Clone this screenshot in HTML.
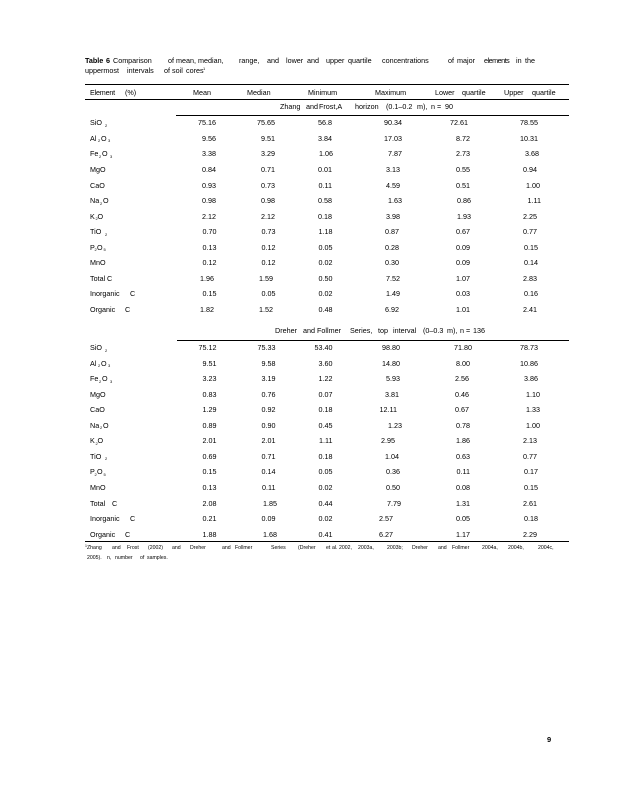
<!DOCTYPE html>
<html><head><meta charset="utf-8">
<style>
html,body{margin:0;padding:0;background:#fff;}
#pg{position:relative;width:618px;height:800px;overflow:hidden;background:#fff;color:#000;font-family:"Liberation Sans",Arial,sans-serif;font-size:7.2px;}
.t{position:absolute;white-space:nowrap;line-height:9px;height:9px;}
.r{position:absolute;left:0;width:618px;height:9px;line-height:9px;white-space:nowrap;}
.r span{position:absolute;top:0;}
.a{right:401.5px}.b{right:342.5px}.c{right:285.5px}.d{right:218px}.e{right:148px}.f{right:80px}
.r span.s{font-size:4px;top:2.5px;}
.hl{position:absolute;height:1px;background:#000;}
.fn{position:absolute;white-space:nowrap;font-size:5.2px;line-height:7px;}
</style></head><body><div id="pg">

<!-- Title -->
<div class="t" style="top:55.6px;left:85px;font-weight:bold">Table</div>
<div class="t" style="top:55.6px;left:106px;font-weight:bold">6</div>
<div class="t" style="top:55.6px;left:113px">Comparison</div>
<div class="t" style="top:55.6px;left:168px">of</div>
<div class="t" style="top:55.6px;left:176px">mean,</div>
<div class="t" style="top:55.6px;left:198px">median,</div>
<div class="t" style="top:55.6px;left:239px">range,</div>
<div class="t" style="top:55.6px;left:267px">and</div>
<div class="t" style="top:55.6px;left:286px">lower</div>
<div class="t" style="top:55.6px;left:307px">and</div>
<div class="t" style="top:55.6px;left:326px">upper</div>
<div class="t" style="top:55.6px;left:348px">quartile</div>
<div class="t" style="top:55.6px;left:382px">concentrations</div>
<div class="t" style="top:55.6px;left:448px">of</div>
<div class="t" style="top:55.6px;left:457px">major</div>
<div class="t" style="top:55.6px;left:484px;letter-spacing:-0.5px">elements</div>
<div class="t" style="top:55.6px;left:516px">in</div>
<div class="t" style="top:55.6px;left:525px">the</div>

<div class="t" style="top:66.3px;left:85px">uppermost</div>
<div class="t" style="top:66.3px;left:127px">intervals</div>
<div class="t" style="top:66.3px;left:164px">of</div>
<div class="t" style="top:66.3px;left:172px">soil</div>
<div class="t" style="top:66.3px;left:186px">cores</div>
<div class="t" style="top:64.3px;left:203px;font-size:4px">1</div>

<!-- rules -->
<div class="hl" style="top:83.5px;left:85px;width:484px"></div>
<div class="hl" style="top:98.5px;left:85px;width:484px"></div>
<div class="hl" style="top:115px;left:176px;width:393px"></div>
<div class="hl" style="top:339.5px;left:177px;width:392px"></div>
<div class="hl" style="top:541px;left:85px;width:484px"></div>

<!-- header -->
<div class="t" style="top:87.6px;left:90px;letter-spacing:-0.2px">Element</div>
<div class="t" style="top:87.6px;left:125px">(%)</div>
<div class="t" style="top:87.6px;left:193px">Mean</div>
<div class="t" style="top:87.6px;left:247px">Median</div>
<div class="t" style="top:87.6px;left:308px">Minimum</div>
<div class="t" style="top:87.6px;left:375px">Maximum</div>
<div class="t" style="top:87.6px;left:435px">Lower</div>
<div class="t" style="top:87.6px;left:462px">quartile</div>
<div class="t" style="top:87.6px;left:504px">Upper</div>
<div class="t" style="top:87.6px;left:532px">quartile</div>

<!-- section 1 header -->
<div class="t" style="top:102.3px;left:280px">Zhang</div>
<div class="t" style="top:102.3px;left:306px">and</div>
<div class="t" style="top:102.3px;left:319px">Frost,A</div>
<div class="t" style="top:102.3px;left:355px">horizon</div>
<div class="t" style="top:102.3px;left:386px">(0.1–0.2</div>
<div class="t" style="top:102.3px;left:417px">m),</div>
<div class="t" style="top:102.3px;left:431px">n</div>
<div class="t" style="top:102.3px;left:437px">=</div>
<div class="t" style="top:102.3px;left:445px">90</div>

<!-- section 1 rows -->
<div class="r" style="top:118.3px"><span style="left:90px">SiO</span><span class="s" style="left:105px">2</span>
<span class="a" style="right:402px">75.16</span><span class="b" style="right:343px">75.65</span><span class="c" style="right:286px">56.8</span><span class="d" style="right:216px">90.34</span><span class="e" style="right:150px">72.61</span><span class="f">78.55</span></div>

<div class="r" style="top:133.85px"><span style="left:90px">Al</span><span class="s" style="left:98px">2</span><span style="left:101px">O</span><span class="s" style="left:108px">3</span>
<span class="a" style="right:402px">9.56</span><span class="b" style="right:343px">9.51</span><span class="c" style="right:286px">3.84</span><span class="d" style="right:216px">17.03</span><span class="e">8.72</span><span class="f">10.31</span></div>

<div class="r" style="top:149.4px"><span style="left:90px">Fe</span><span class="s" style="left:99px">2</span><span style="left:102px">O</span><span class="s" style="left:110px">3</span>
<span class="a" style="right:402px">3.38</span><span class="b" style="right:343px">3.29</span><span class="c" style="right:285px">1.06</span><span class="d" style="right:216px">7.87</span><span class="e">2.73</span><span class="f" style="right:79px">3.68</span></div>

<div class="r" style="top:164.95px"><span style="left:90px">MgO</span>
<span class="a" style="right:402px">0.84</span><span class="b" style="right:343px">0.71</span><span class="c" style="right:286px">0.01</span><span class="d">3.13</span><span class="e">0.55</span><span class="f" style="right:81px">0.94</span></div>

<div class="r" style="top:180.5px"><span style="left:90px">CaO</span>
<span class="a" style="right:402px">0.93</span><span class="b" style="right:343px">0.73</span><span class="c" style="right:286px">0.11</span><span class="d">4.59</span><span class="e">0.51</span><span class="f" style="right:78px">1.00</span></div>

<div class="r" style="top:196.05px"><span style="left:90px">Na</span><span class="s" style="left:100px">2</span><span style="left:103px">O</span>
<span class="a" style="right:402px">0.98</span><span class="b" style="right:343px">0.98</span><span class="c" style="right:286px">0.58</span><span class="d" style="right:216px">1.63</span><span class="e" style="right:147px">0.86</span><span class="f" style="right:77px">1.11</span></div>

<div class="r" style="top:211.6px"><span style="left:90px">K</span><span class="s" style="left:95.5px">2</span><span style="left:97.5px">O</span>
<span class="a" style="right:402px">2.12</span><span class="b" style="right:343px">2.12</span><span class="c" style="right:286px">0.18</span><span class="d">3.98</span><span class="e" style="right:147px">1.93</span><span class="f" style="right:81px">2.25</span></div>

<div class="r" style="top:227.15px"><span style="left:90px">TiO</span><span class="s" style="left:105px">2</span>
<span class="a">0.70</span><span class="b">0.73</span><span class="c">1.18</span><span class="d" style="right:219px">0.87</span><span class="e">0.67</span><span class="f" style="right:81px">0.77</span></div>

<div class="r" style="top:242.7px"><span style="left:90px">P</span><span class="s" style="left:94.5px">2</span><span style="left:97px">O</span><span class="s" style="left:103.5px">5</span>
<span class="a">0.13</span><span class="b">0.12</span><span class="c">0.05</span><span class="d" style="right:219px">0.28</span><span class="e">0.09</span><span class="f">0.15</span></div>

<div class="r" style="top:258.25px"><span style="left:90px">MnO</span>
<span class="a">0.12</span><span class="b">0.12</span><span class="c">0.02</span><span class="d" style="right:219px">0.30</span><span class="e">0.09</span><span class="f">0.14</span></div>

<div class="r" style="top:273.8px"><span style="left:90px">Total</span><span style="left:107px">C</span>
<span class="a" style="right:404px">1.96</span><span class="b" style="right:345px">1.59</span><span class="c">0.50</span><span class="d">7.52</span><span class="e">1.07</span><span class="f" style="right:81px">2.83</span></div>

<div class="r" style="top:289.35px"><span style="left:90px">Inorganic</span><span style="left:130px">C</span>
<span class="a">0.15</span><span class="b">0.05</span><span class="c">0.02</span><span class="d">1.49</span><span class="e">0.03</span><span class="f">0.16</span></div>

<div class="r" style="top:304.9px"><span style="left:90px">Organic</span><span style="left:125px">C</span>
<span class="a" style="right:404px">1.82</span><span class="b" style="right:345px">1.52</span><span class="c">0.48</span><span class="d" style="right:219px">6.92</span><span class="e">1.01</span><span class="f" style="right:81px">2.41</span></div>

<!-- section 2 header -->
<div class="t" style="top:326.1px;left:275px">Dreher</div>
<div class="t" style="top:326.1px;left:303px">and</div>
<div class="t" style="top:326.1px;left:317px">Follmer</div>
<div class="t" style="top:326.1px;left:350px">Series,</div>
<div class="t" style="top:326.1px;left:378px">top</div>
<div class="t" style="top:326.1px;left:393px">interval</div>
<div class="t" style="top:326.1px;left:423px">(0–0.3</div>
<div class="t" style="top:326.1px;left:447px">m),</div>
<div class="t" style="top:326.1px;left:460px">n</div>
<div class="t" style="top:326.1px;left:466px">=</div>
<div class="t" style="top:326.1px;left:473px">136</div>

<!-- section 2 rows -->
<div class="r" style="top:343.1px"><span style="left:90px">SiO</span><span class="s" style="left:105px">2</span>
<span class="a">75.12</span><span class="b">75.33</span><span class="c">53.40</span><span class="d">98.80</span><span class="e" style="right:146px">71.80</span><span class="f">78.73</span></div>

<div class="r" style="top:358.6px"><span style="left:90px">Al</span><span class="s" style="left:98px">2</span><span style="left:101px">O</span><span class="s" style="left:108px">3</span>
<span class="a">9.51</span><span class="b">9.58</span><span class="c">3.60</span><span class="d">14.80</span><span class="e">8.00</span><span class="f">10.86</span></div>

<div class="r" style="top:374.2px"><span style="left:90px">Fe</span><span class="s" style="left:99px">2</span><span style="left:102px">O</span><span class="s" style="left:110px">3</span>
<span class="a">3.23</span><span class="b">3.19</span><span class="c">1.22</span><span class="d">5.93</span><span class="e" style="right:149px">2.56</span><span class="f">3.86</span></div>

<div class="r" style="top:389.7px"><span style="left:90px">MgO</span>
<span class="a">0.83</span><span class="b">0.76</span><span class="c">0.07</span><span class="d" style="right:219px">3.81</span><span class="e" style="right:149px">0.46</span><span class="f" style="right:78px">1.10</span></div>

<div class="r" style="top:405.3px"><span style="left:90px">CaO</span>
<span class="a">1.29</span><span class="b">0.92</span><span class="c">0.18</span><span class="d" style="right:221px">12.11</span><span class="e" style="right:149px">0.67</span><span class="f" style="right:78px">1.33</span></div>

<div class="r" style="top:420.8px"><span style="left:90px">Na</span><span class="s" style="left:100px">2</span><span style="left:103px">O</span>
<span class="a">0.89</span><span class="b">0.90</span><span class="c">0.45</span><span class="d" style="right:216px">1.23</span><span class="e">0.78</span><span class="f" style="right:78px">1.00</span></div>

<div class="r" style="top:436.3px"><span style="left:90px">K</span><span class="s" style="left:95.5px">2</span><span style="left:97.5px">O</span>
<span class="a">2.01</span><span class="b">2.01</span><span class="c">1.11</span><span class="d" style="right:223px">2.95</span><span class="e">1.86</span><span class="f" style="right:81px">2.13</span></div>

<div class="r" style="top:451.9px"><span style="left:90px">TiO</span><span class="s" style="left:105px">2</span>
<span class="a">0.69</span><span class="b">0.71</span><span class="c">0.18</span><span class="d" style="right:219px">1.04</span><span class="e">0.63</span><span class="f" style="right:81px">0.77</span></div>

<div class="r" style="top:467.4px"><span style="left:90px">P</span><span class="s" style="left:94.5px">2</span><span style="left:97px">O</span><span class="s" style="left:103.5px">5</span>
<span class="a">0.15</span><span class="b">0.14</span><span class="c">0.05</span><span class="d">0.36</span><span class="e">0.11</span><span class="f">0.17</span></div>

<div class="r" style="top:483px"><span style="left:90px">MnO</span>
<span class="a">0.13</span><span class="b">0.11</span><span class="c">0.02</span><span class="d">0.50</span><span class="e">0.08</span><span class="f">0.15</span></div>

<div class="r" style="top:498.5px"><span style="left:90px">Total</span><span style="left:112px">C</span>
<span class="a">2.08</span><span class="b" style="right:341px">1.85</span><span class="c">0.44</span><span class="d" style="right:217px">7.79</span><span class="e">1.31</span><span class="f" style="right:81px">2.61</span></div>

<div class="r" style="top:514px"><span style="left:90px">Inorganic</span><span style="left:130px">C</span>
<span class="a">0.21</span><span class="b">0.09</span><span class="c">0.02</span><span class="d" style="right:225px">2.57</span><span class="e">0.05</span><span class="f">0.18</span></div>

<div class="r" style="top:529.6px"><span style="left:90px">Organic</span><span style="left:125px">C</span>
<span class="a">1.88</span><span class="b" style="right:341px">1.68</span><span class="c">0.41</span><span class="d" style="right:225px">6.27</span><span class="e">1.17</span><span class="f" style="right:81px">2.29</span></div>

<!-- footnote -->
<div class="fn" style="top:543.3px;left:85px;font-size:3.5px">1</div>
<div class="fn" style="top:545.3px;left:87px">Zhang</div>
<div class="fn" style="top:545.3px;left:112px">and</div>
<div class="fn" style="top:545.3px;left:127px">Frost</div>
<div class="fn" style="top:545.3px;left:148px">(2002)</div>
<div class="fn" style="top:545.3px;left:172px">and</div>
<div class="fn" style="top:545.3px;left:190px">Dreher</div>
<div class="fn" style="top:545.3px;left:222px">and</div>
<div class="fn" style="top:545.3px;left:235px">Follmer</div>
<div class="fn" style="top:545.3px;left:271px">Series</div>
<div class="fn" style="top:545.3px;left:298px">(Dreher</div>
<div class="fn" style="top:545.3px;left:326px">et</div>
<div class="fn" style="top:545.3px;left:332px">al.</div>
<div class="fn" style="top:545.3px;left:339px">2002,</div>
<div class="fn" style="top:545.3px;left:358px">2003a,</div>
<div class="fn" style="top:545.3px;left:387px">2003b;</div>
<div class="fn" style="top:545.3px;left:412px">Dreher</div>
<div class="fn" style="top:545.3px;left:438px">and</div>
<div class="fn" style="top:545.3px;left:452px">Follmer</div>
<div class="fn" style="top:545.3px;left:482px">2004a,</div>
<div class="fn" style="top:545.3px;left:508px">2004b,</div>
<div class="fn" style="top:545.3px;left:538px">2004c,</div>

<div class="fn" style="top:554.9px;left:87px">2005).</div>
<div class="fn" style="top:554.9px;left:107px">n,</div>
<div class="fn" style="top:554.9px;left:115px">number</div>
<div class="fn" style="top:554.9px;left:140px">of</div>
<div class="fn" style="top:554.9px;left:147px">samples.</div>

<!-- page number -->
<div class="t" style="top:734.5px;left:547px;font-weight:bold;font-size:7.5px">9</div>

</div></body></html>
